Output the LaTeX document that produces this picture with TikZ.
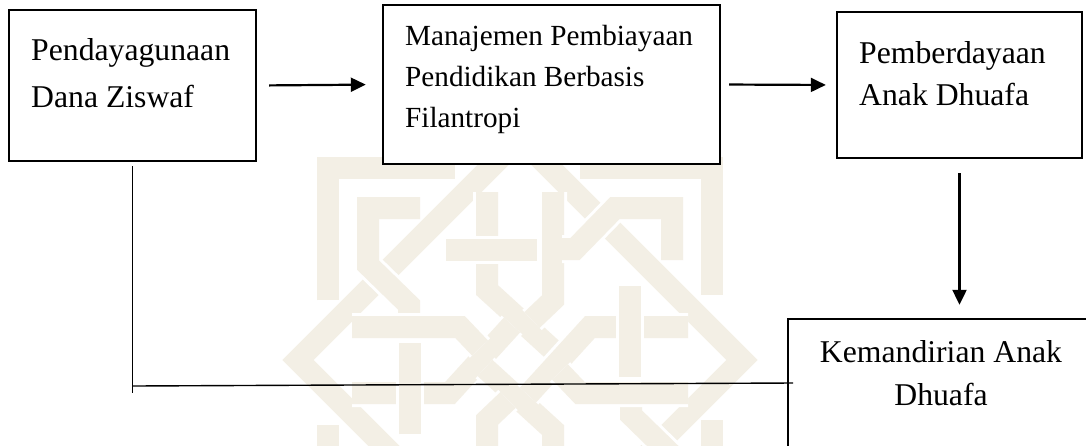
\documentclass[tikz,border=0pt]{standalone}
\usepackage{fontspec}
\setmainfont{Liberation Serif}
\usetikzlibrary{arrows.meta,calc}
\definecolor{wm}{RGB}{243,239,229}
\newcommand\wmband[1]{\draw[casing] #1; \draw[band] #1;}
\begin{document}
\begin{tikzpicture}[x=1pt,y=-1pt,
  boxnode/.style={draw=black, line width=2.4pt, fill=white, rectangle, inner sep=0pt},
  big/.style={font=\fontsize{31.7}{38}\selectfont, inner sep=0pt},
  mid/.style={font=\fontsize{29.2}{35}\selectfont, inner sep=0pt},
  arr/.style={line width=2.2pt, -{Triangle[length=15pt,width=14pt]}},
  thinline/.style={line width=1.4pt},
  band/.style={line width=22pt, draw=wm, line join=miter},
  casing/.style={line width=28pt, draw=white, line join=miter},
]
\useasboundingbox (0,0) rectangle (1086,445);
\clip (0,0) rectangle (1086,445);
\fill[white] (0,0) rectangle (1086,445);

% watermark
\draw[band] (298,360) -- (520,138) -- (742,360) -- (520,582) -- cycle;
\foreach \r in {0,90,180,270}{
  \begin{scope}[rotate around={\r:(520,360)}]
    \wmband{(328,300) -- (328,168) -- (455,168)}
    \wmband{(420,208) -- (368,208) -- (368,265) -- (409,305) -- (409,318)}
    \wmband{(487,192) -- (487,290) -- (555,352)}
    \wmband{(446,250) -- (537,250)}
    \wmband{(553,192) -- (553,300) -- (532,320)}
  \end{scope}
}

% boxes
\node[boxnode, minimum width=247pt, minimum height=151pt] (b1) at (132.5,85.5) {};
\node[boxnode, minimum width=337pt, minimum height=159pt] (b2) at (551.5,84.5) {};
\node[boxnode, minimum width=245pt, minimum height=146pt] (b3) at (959.5,85) {};
\node[boxnode, minimum width=322pt, minimum height=151pt] (b4) at (949,394.5) {};

% texts
\node[big, anchor=base west] (t1a) at (31,60) {Pendayagunaan};
\node[big, anchor=base west] (t1b) at (31,107) {Dana Ziswaf};
\node[mid, anchor=base west] (t2a) at (405,45) {Manajemen Pembiayaan};
\node[mid, anchor=base west] (t2b) at (405,86) {Pendidikan Berbasis};
\node[mid, anchor=base west] (t2c) at (405,127) {Filantropi};
\node[big, anchor=base west] (t3a) at (859,63) {Pemberdayaan};
\node[big, anchor=base west] (t3b) at (859,105) {Anak Dhuafa};
\node[big, anchor=base] (t4a) at (941,362) {Kemandirian Anak};
\node[big, anchor=base] (t4b) at (941,405) {Dhuafa};

% connectors
\draw[arr, shorten <=12pt, shorten >=16pt] (b1.east) -- (b2.west);
\draw[arr, shorten <=8pt, shorten >=10pt] (b2.east) -- (b3.west);
\draw[arr, shorten <=14pt, shorten >=13pt] (b3.south) -- (b3.south |- b4.north);

\coordinate (c1) at (132.5,393);
\coordinate (c2) at (133,386);
\coordinate (c3) at (793,383);
\draw[thinline, shorten <=4pt] (b1.south) -- (c1);
\draw[thinline] (c2) -- (c3);
\end{tikzpicture}
\end{document}
